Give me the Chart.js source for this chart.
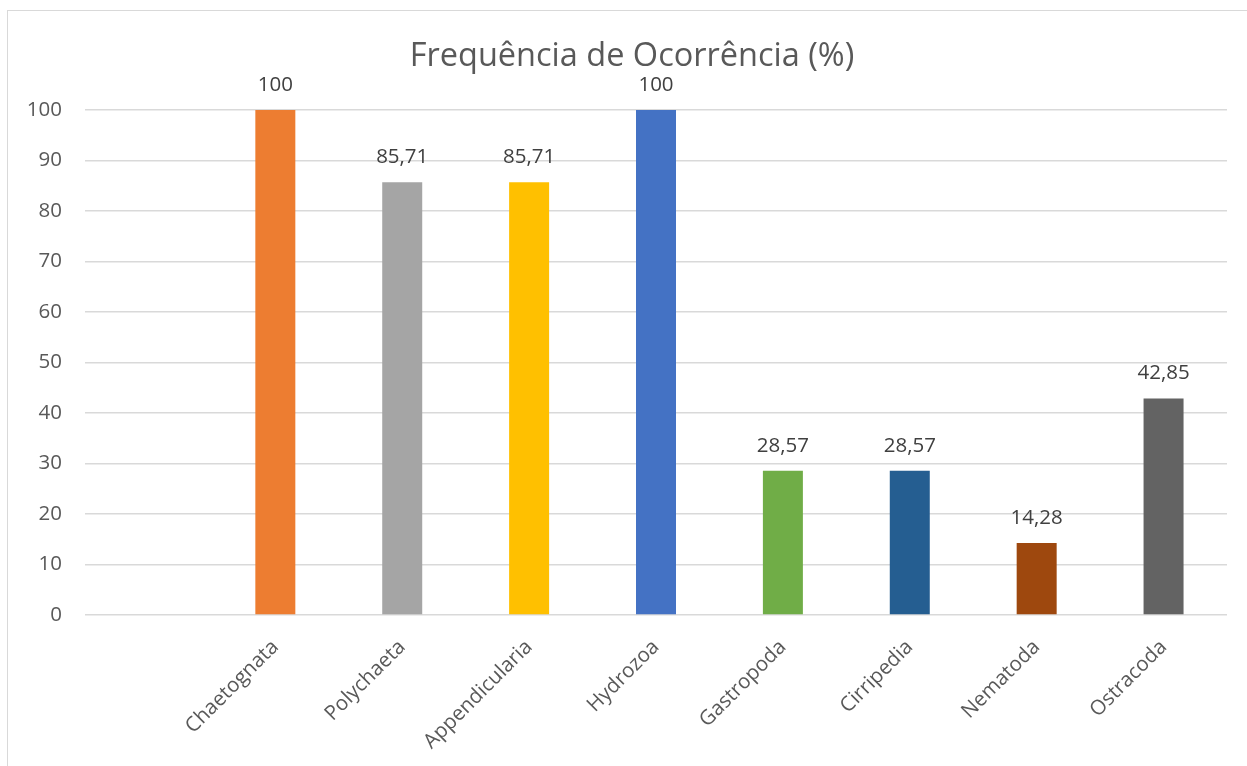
<!DOCTYPE html>
<html>
<head>
<meta charset="utf-8">
<script src="https://cdn.jsdelivr.net/npm/chart.js@4"></script>
<style>
  html, body { margin: 0; padding: 0; background: #fff; overflow: hidden; }
  #frame { position: absolute; left: 7px; top: 10px; width: 1300px; height: 800px; border: 1.5px solid #d9d9d9; box-sizing: border-box; }
  #wrap { position: absolute; left: 0; top: 0; width: 1247px; height: 766px; }
</style>
</head>
<body>
<div id="frame"></div>
<div id="wrap"><canvas id="c"></canvas></div>
<script>
const categories = ['', 'Chaetognata', 'Polychaeta', 'Appendicularia', 'Hydrozoa', 'Gastropoda', 'Cirripedia', 'Nematoda', 'Ostracoda'];
const values = [null, 100, 85.71, 85.71, 100, 28.57, 28.57, 14.28, 42.85];
const barColors = ['#ffffff', '#ED7D31', '#A5A5A5', '#FFC000', '#4472C4', '#70AD47', '#255E91', '#9E480E', '#636363'];
const titleText = 'Frequência de Ocorrência (%)';

const FONT = "'Open Sans', sans-serif";
const TXT = '#595959';

const dataLabels = {
  id: 'dataLabels',
  afterDatasetsDraw(chart) {
    const ctx = chart.ctx;
    const meta = chart.getDatasetMeta(0);
    ctx.save();
    ctx.font = "20.5px " + FONT;
    ctx.fillStyle = '#404040';
    ctx.textAlign = 'center';
    ctx.textBaseline = 'middle';
    meta.data.forEach((bar, i) => {
      const v = values[i];
      if (v === null || v === undefined) return;
      ctx.fillText(String(v).replace('.', ','), bar.x, bar.y - 25);
    });
    ctx.restore();
  }
};

const chartTitle = {
  id: 'chartTitle',
  afterDraw(chart) {
    const ctx = chart.ctx;
    ctx.save();
    ctx.font = "32.5px " + FONT;
    ctx.fillStyle = TXT;
    ctx.textAlign = 'center';
    ctx.textBaseline = 'middle';
    ctx.fillText(titleText, 632, 57);
    ctx.restore();
  }
};

new Chart(document.getElementById('c'), {
  type: 'bar',
  data: {
    labels: categories,
    datasets: [{
      data: values,
      backgroundColor: barColors,
      categoryPercentage: 1,
      barPercentage: 40 / 126.9
    }]
  },
  options: {
    responsive: true,
    maintainAspectRatio: false,
    animation: false,
    layout: { padding: { left: 0, right: 20, top: 110, bottom: 0 } },
    plugins: {
      legend: { display: false },
      tooltip: { enabled: false },
      title: { display: false }
    },
    scales: {
      x: {
        grid: { display: false },
        border: { display: false },
        ticks: {
          color: TXT,
          font: { family: FONT, size: 20.5 },
          minRotation: 45,
          maxRotation: 45,
          autoSkip: false,
          padding: 12
        },
        afterFit(scale) { scale.height = 151; }
      },
      y: {
        min: 0,
        max: 100,
        grid: { color: '#d9d9d9', lineWidth: 1.5, drawTicks: false },
        border: { display: false },
        ticks: {
          stepSize: 10,
          color: TXT,
          font: { family: FONT, size: 20.5 },
          padding: 23
        },
        afterFit(scale) { scale.width = 85; }
      }
    }
  },
  plugins: [dataLabels, chartTitle]
});
</script>
</body>
</html>
